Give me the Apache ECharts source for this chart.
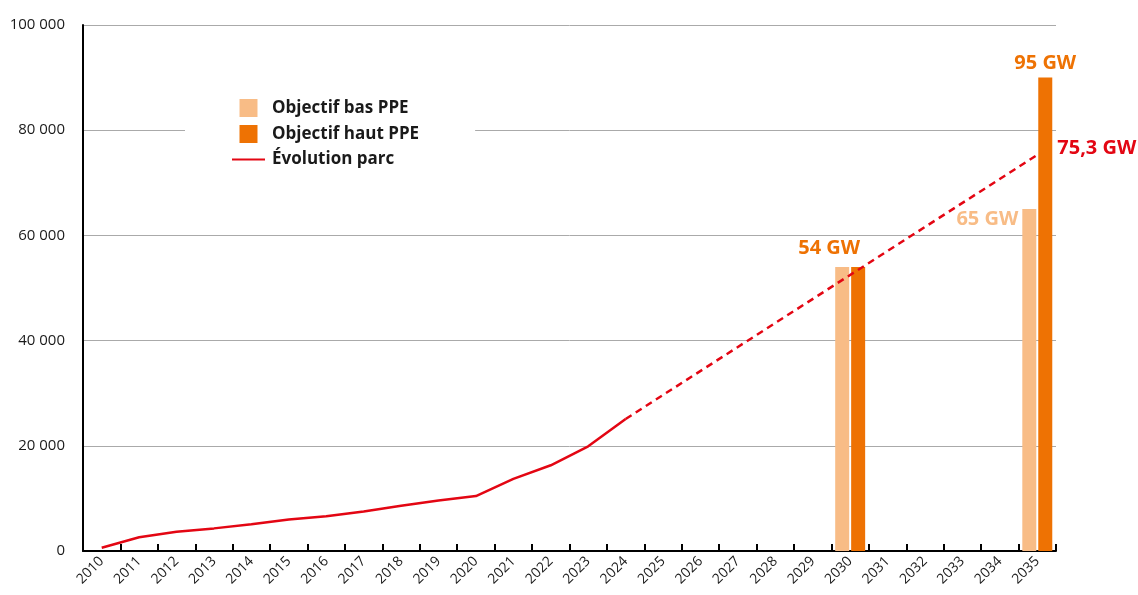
<!DOCTYPE html>
<html>
<head>
<meta charset="utf-8">
<script src="https://cdn.jsdelivr.net/npm/echarts@6/dist/echarts.min.js"></script>
<style>
  html, body { margin: 0; padding: 0; background: #fff; }
  #main { width: 1138px; height: 595px; }
</style>
</head>
<body>
<div id="main"></div>
<script>
// années
var years = ['2010', '2011', '2012', '2013', '2014', '2015', '2016', '2017', '2018', '2019',
  '2020', '2021', '2022', '2023', '2024', '2025', '2026', '2027', '2028', '2029',
  '2030', '2031', '2032', '2033', '2034', '2035']
// parc installé (MW), historique
var parcHisto = [630, 2600, 3650, 4300, 5100, 6000, 6600, 7500, 8600, 9600,
  10450, 13700, 16300, 19900, 25100]
// projection : 2024 -> 2035
var parcProj = { '2024': 25100, '2035': 75300 }
// objectifs PPE
var objBas = { '2030': 54000, '2035': 65000 }
var objHaut = { '2030': 54000, '2035': 90000 }
var labelsBas = { '2030': '54 GW', '2035': '65 GW' }
var labelsHaut = { '2035': '95 GW' }
var labelProj = '75,3 GW'
var yTicks = [0, 20000, 40000, 60000, 80000, 100000]

var ROUGE = '#e30613'
var ORANGE_CLAIR = '#f8bc86'
var ORANGE = '#ee7203'
var FONT = '"Open Sans", sans-serif'

var serieBas = years.map(function (y) {
  if (objBas[y] === undefined) return null
  if (y === '2030') {
    return {
      value: objBas[y],
      label: {
        show: true,
        position: 'top',
        offset: [-13, -4],
        formatter: labelsBas[y],
        color: ORANGE,
        fontSize: 20,
        fontWeight: 'bold',
        fontFamily: FONT,
        backgroundColor: '#fff',
        padding: [0, 10, 0, 10]
      }
    }
  }
  return {
    value: objBas[y],
    label: {
      show: true,
      position: [-4, 0],
      align: 'right',
      verticalAlign: 'top',
      formatter: labelsBas[y],
      color: ORANGE_CLAIR,
      fontSize: 20,
      fontWeight: 'bold',
      fontFamily: FONT
    }
  }
})
var serieHaut = years.map(function (y) {
  if (objHaut[y] === undefined) return null
  if (labelsHaut[y]) {
    return {
      value: objHaut[y],
      label: {
        show: true,
        position: 'top',
        distance: 4,
        formatter: labelsHaut[y],
        color: ORANGE,
        fontSize: 20,
        fontWeight: 'bold',
        fontFamily: FONT
      }
    }
  }
  return objHaut[y]
})
var serieHisto = years.map(function (y, i) {
  return i < parcHisto.length ? parcHisto[i] : null
})
var serieProj = years.map(function (y) {
  if (parcProj[y] === undefined) return null
  if (y === '2035') {
    return {
      value: parcProj[y],
      label: {
        show: true,
        position: 'right',
        distance: 20,
        offset: [0, -7],
        formatter: labelProj,
        color: ROUGE,
        fontSize: 20,
        fontWeight: 'bold',
        fontFamily: FONT
      }
    }
  }
  return parcProj[y]
})

var myChart = echarts.init(document.getElementById('main'))
myChart.setOption({
  animation: false,
  grid: {
    left: 83,
    right: 82,
    top: 25,
    bottom: 44
  },
  legend: {
    orient: 'vertical',
    left: 185,
    top: 89,
    padding: [10, 56, 10, 47],
    backgroundColor: '#fff',
    itemWidth: 33,
    itemHeight: 18,
    itemGap: 8,
    symbolKeepAspect: true,
    textStyle: {
      color: '#1a1a1a',
      fontSize: 17,
      fontWeight: 'bold',
      fontFamily: FONT,
      padding: [0, 0, 0, 2]
    },
    data: [
      { name: 'Objectif bas PPE', icon: 'path://M0,0H10V10H0Z' },
      { name: 'Objectif haut PPE', icon: 'path://M0,0H10V10H0Z' },
      { name: 'Évolution parc', icon: 'path://M0,8H33V10H0Z' }
    ]
  },
  xAxis: {
    type: 'category',
    data: years,
    boundaryGap: true,
    axisLine: {
      lineStyle: { color: '#000', width: 2 }
    },
    axisTick: {
      show: true,
      inside: true,
      length: 7,
      lineStyle: { color: '#000', width: 2 }
    },
    axisLabel: {
      rotate: 45,
      interval: 0,
      margin: 8,
      color: '#1a1a1a',
      fontSize: 14,
      fontFamily: FONT
    },
    splitLine: { show: false }
  },
  yAxis: {
    type: 'value',
    min: yTicks[0],
    max: yTicks[yTicks.length - 1],
    interval: yTicks[1] - yTicks[0],
    axisLine: {
      show: true,
      lineStyle: { color: '#000', width: 2 }
    },
    axisTick: { show: false },
    axisLabel: {
      margin: 18,
      color: '#1a1a1a',
      fontSize: 15,
      fontFamily: FONT,
      formatter: function (v) {
        return String(v).replace(/\B(?=(\d{3})+(?!\d))/g, ' ')
      }
    },
    splitLine: {
      show: true,
      lineStyle: { color: '#aaa', width: 1 }
    }
  },
  series: [
    {
      name: 'Objectif bas PPE',
      type: 'bar',
      barWidth: 14,
      barGap: '14%',
      itemStyle: { color: ORANGE_CLAIR },
      data: serieBas
    },
    {
      name: 'Objectif haut PPE',
      type: 'bar',
      barWidth: 14,
      barGap: '14%',
      itemStyle: { color: ORANGE },
      data: serieHaut
    },
    {
      name: 'Évolution parc',
      type: 'line',
      symbol: 'none',
      lineStyle: { color: ROUGE, width: 2.5 },
      itemStyle: { color: ROUGE },
      data: serieHisto,
      z: 5
    },
    {
      name: 'Projection parc',
      type: 'line',
      symbol: 'circle',
      symbolSize: 0,
      showSymbol: true,
      connectNulls: true,
      lineStyle: { color: ROUGE, width: 2.5, type: [7, 5] },
      itemStyle: { color: ROUGE },
      data: serieProj,
      z: 5
    }
  ]
})
</script>
</body>
</html>
